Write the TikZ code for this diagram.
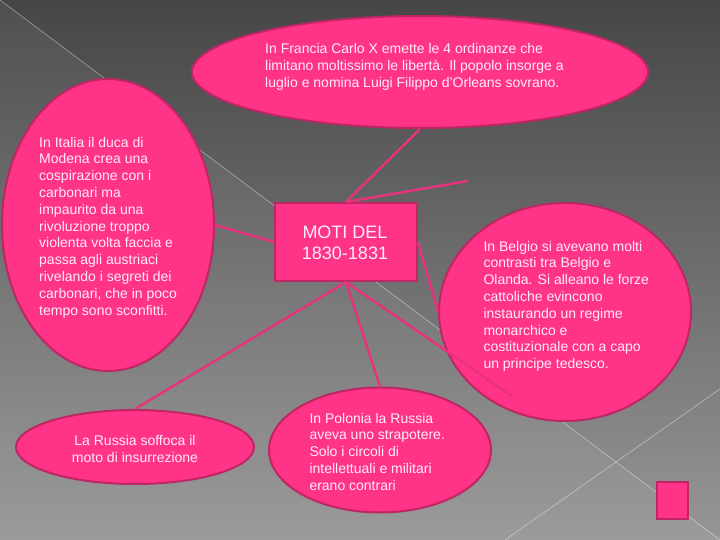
\documentclass[tikz,border=0pt]{standalone}
\usepackage{fontspec}
\setmainfont{Liberation Sans}
\usetikzlibrary{shapes.geometric}
\definecolor{bgtop}{RGB}{70,70,70}
\definecolor{bgbot}{RGB}{150,150,150}
\definecolor{pinkfill}{RGB}{255,51,136}
\definecolor{pinkedge}{RGB}{190,38,100}
\definecolor{pinkline}{RGB}{232,50,125}
\definecolor{txt}{RGB}{255,236,244}
\begin{document}
\begin{tikzpicture}[x=1pt,y=-1pt,
  bubble/.style={ellipse, draw=pinkedge, fill=pinkfill, line width=2pt, inner sep=0pt},
  box/.style={rectangle, draw=pinkedge, fill=pinkfill, line width=2pt, inner sep=0pt},
  body/.style={inner sep=0pt, text=txt, font=\fontsize{14}{16.8}\selectfont, align=left},
  link/.style={pinkline, line width=2.4pt},
  guide/.style={draw=white, opacity=0.45, line width=0.6pt}]
\useasboundingbox (0,0) rectangle (720,540);
\shade[top color=bgtop, bottom color=bgbot] (0,0) rectangle (720,540);
\fill[white, opacity=0.05] (0,0) -- (720,540) -- (0,540) -- cycle;
\draw[guide] (0,0) -- (720,540);
\draw[guide] (720,389) -- (505,540);

\node[bubble, minimum width=456pt, minimum height=112pt] (fra) at (420,72) {};
\node[bubble, minimum width=212pt, minimum height=292pt] (ita) at (108,225) {};
\node[bubble, minimum width=252pt, minimum height=218pt] (bel) at (565,312) {};
\node[bubble, minimum width=238pt, minimum height=74pt] (rus) at (135,447) {};
\node[bubble, minimum width=222pt, minimum height=125pt] (pol) at (380,450) {};
\node[box, minimum width=142pt, minimum height=78pt] (moti) at (346,242) {};
\node[box, minimum width=31pt, minimum height=37pt] (sq) at (672.5,500.5) {};

\coordinate (e1) at (468,181);
\coordinate (e2) at (512,396);
\draw[link] (fra.south) -- (moti.north);
\draw[link] (moti.north) -- (e1);
\draw[link] (ita.east) -- (moti.west);
\draw[link] (moti.south) -- (rus.north);
\draw[link] (moti.south) -- (pol.north);
\draw[link] (moti.south) -- (e2);
\draw[link] (moti.east) -- (bel.west);

\node[body, anchor=north west] (tfra) at (265,43.3) {In Francia Carlo X emette le 4 ordinanze che\\limitano moltissimo le libertà. Il popolo insorge a\\luglio e nomina Luigi Filippo d'Orleans sovrano.};
\node[body, anchor=north west] (tita) at (39,136.7) {In Italia il duca di\\Modena crea una\\cospirazione con i\\carbonari ma\\impaurito da una\\rivoluzione troppo\\violenta volta faccia e\\passa agli austriaci\\rivelando i segreti dei\\carbonari, che in poco\\tempo sono sconfitti.};
\node[body, anchor=north west] (tbel) at (483.3,240.7) {In Belgio si avevano molti\\contrasti tra Belgio e\\Olanda. Si alleano le forze\\cattoliche evincono\\instaurando un regime\\monarchico e\\costituzionale con a capo\\un principe tedesco.};
\node[body, anchor=north, align=center] (trus) at (135,435) {La Russia soffoca il\\moto di insurrezione};
\node[body, anchor=north west] (tpol) at (309.3,412.7) {In Polonia la Russia\\aveva uno strapotere.\\Solo i circoli di\\intellettuali e militari\\erano contrari};
\node[inner sep=0pt, text=txt, font=\fontsize{18}{21}\selectfont, align=center, anchor=north] (tmoti) at (345,225.4) {MOTI DEL\\1830-1831};
\end{tikzpicture}
\end{document}
